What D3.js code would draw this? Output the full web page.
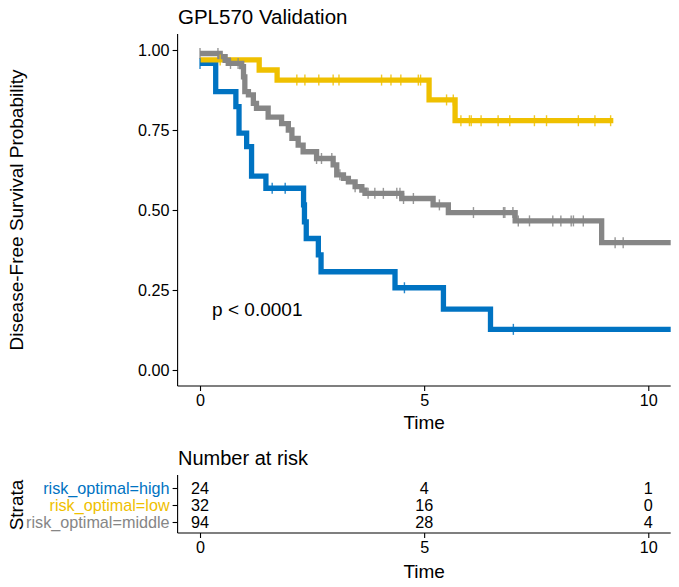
<!DOCTYPE html>
<html><head><meta charset="utf-8">
<script src="https://cdn.jsdelivr.net/npm/d3@7"></script>
<style>body{margin:0;background:#fff}svg{display:block}text{font-family:"Liberation Sans",Arial,sans-serif}</style>
</head><body>
<script>
// ---- data ----
const strata = ["risk_optimal=high", "risk_optimal=low", "risk_optimal=middle"];
const colors = ["#0073C2", "#EFC000", "#868686"];
// step curves: time of change, survival after change
const highTimes = [0, 0.35, 0.80, 0.87, 1.04, 1.15, 1.47, 2.31, 2.33, 2.37, 2.64, 2.70, 4.35, 5.43, 6.48, 10.8];
const highSurv  = [0.958, 0.870, 0.823, 0.740, 0.698, 0.606, 0.568, 0.516, 0.463, 0.411, 0.360, 0.307, 0.257, 0.190, 0.127, 0.127];
const highCens  = [0.0, 1.61, 1.90, 4.56, 6.99];
const lowTimes  = [0, 1.32, 1.72, 5.11, 5.69, 9.22];
const lowSurv   = [0.969, 0.9375, 0.906, 0.844, 0.779, 0.779];
const lowCens   = [0.45, 2.16, 2.34, 2.65, 2.97, 3.10, 4.05, 4.26, 4.48, 4.87, 4.92, 5.50, 5.65, 5.82, 6.01, 6.05, 6.27, 6.65, 6.91, 7.46, 7.73, 8.44, 8.81, 9.16];
const midTimes  = [0, 0.45, 0.56, 0.63, 0.93, 0.97, 1.00, 1.08, 1.19, 1.26, 1.52, 1.82, 1.97, 2.05, 2.19, 2.30, 2.60, 2.97, 3.05, 3.20, 3.31, 3.46, 3.61, 3.68, 4.50, 5.20, 5.54, 7.03, 8.96, 10.8];
const midSurv   = [0.989, 0.979, 0.968, 0.958, 0.948, 0.916, 0.870, 0.860, 0.833, 0.818, 0.790, 0.770, 0.750, 0.724, 0.703, 0.682, 0.661, 0.641, 0.610, 0.599, 0.588, 0.573, 0.562, 0.552, 0.536, 0.516, 0.492, 0.466, 0.398, 0.398];
const midCens   = [0.0, 0.40, 0.68, 0.85, 2.60, 2.71, 2.94, 3.12, 3.46, 3.75, 3.90, 4.09, 4.39, 4.46, 4.54, 4.76, 5.34, 6.10, 6.77, 6.80, 6.98, 7.10, 7.35, 7.87, 8.05, 8.28, 8.33, 8.55, 9.26, 9.44];
const xTicks = [0, 5, 10];
const yTicks = [0, 0.25, 0.5, 0.75, 1.0];
const riskHigh = [24, 4, 1];
const riskLow  = [32, 16, 0];
const riskMid  = [94, 28, 4];
const title = "GPL570 Validation";
const pText = "p < 0.0001";

const groups = [
  {times: highTimes, surv: highSurv, cens: highCens},
  {times: lowTimes, surv: lowSurv, cens: lowCens},
  {times: midTimes, surv: midSurv, cens: midCens}
];
const risk = [riskHigh, riskLow, riskMid];

const W = 679, H = 587;
const FONT = '"Liberation Sans",Arial,sans-serif';
const svg = d3.select("body").append("svg").attr("width", W).attr("height", H);

const x = d3.scaleLinear().domain([-0.5, 10.5]).range([177.6, 670.7]);
const y = d3.scaleLinear().domain([-0.05, 1.05]).range([386, 34]);

svg.append("clipPath").attr("id", "clip").append("rect")
  .attr("x", x.range()[0]).attr("y", y.range()[1]).attr("width", x.range()[1] - x.range()[0]).attr("height", y.range()[0] - y.range()[1]);

const plot = svg.append("g").attr("clip-path", "url(#clip)");
const line = d3.line().x(d => x(d[0])).y(d => y(d[1])).curve(d3.curveStepAfter);

function survAt(g, t) {
  let s = g.surv[0];
  for (let i = 0; i < g.times.length; i++) { if (g.times[i] <= t) s = g.surv[i]; }
  return s;
}

groups.forEach((g, i) => {
  const pts = g.times.map((t, k) => [t, g.surv[k]]);
  plot.append("path").attr("d", line(pts)).attr("fill", "none")
    .attr("stroke", colors[i]).attr("stroke-width", 5.3).attr("stroke-linejoin", "miter");
});
groups.forEach((g, i) => {
  plot.selectAll(null).data(g.cens).enter().append("line")
    .attr("x1", d => x(d)).attr("x2", d => x(d))
    .attr("y1", d => y(survAt(g, d)) - 5.5).attr("y2", d => y(survAt(g, d)) + 5.5)
    .attr("stroke", colors[i]).attr("stroke-width", 1.4).attr("opacity", 0.85);
});

const axisX = d3.axisBottom(x).tickValues(xTicks).tickSize(5).tickPadding(3).tickFormat(d3.format("d"));
const axisY = d3.axisLeft(y).tickValues(yTicks).tickSize(5).tickPadding(3).tickFormat(d3.format(".2f"));
function styleAxis(g) {
  g.select(".domain").remove();
  g.selectAll(".tick line").attr("stroke", "#000").attr("stroke-width", 1.1);
  g.selectAll(".tick text").attr("fill", "#000").style("font-size", "16.2px").style("font-family", FONT);
}
svg.append("g").attr("transform", `translate(0,${y.range()[0]})`).call(axisX).call(styleAxis);
svg.append("g").attr("transform", `translate(${x.range()[0]},0)`).call(axisY).call(styleAxis);
svg.append("line").attr("x1", x.range()[0]).attr("x2", x.range()[1]).attr("y1", y.range()[0]).attr("y2", y.range()[0]).attr("stroke", "#000").attr("stroke-width", 1.1);
svg.append("line").attr("x1", x.range()[0]).attr("x2", x.range()[0]).attr("y1", y.range()[1]).attr("y2", y.range()[0]).attr("stroke", "#000").attr("stroke-width", 1.1);

svg.append("text").attr("x", 178).attr("y", 24).text(title).style("font-size", "20.5px").attr("fill", "#000");
svg.append("text").attr("transform", `translate(23,${(y.range()[0] + y.range()[1]) / 2}) rotate(-90)`)
  .attr("text-anchor", "middle").text("Disease-Free Survival Probability").style("font-size", "19px");
svg.append("text").attr("x", x(5)).attr("y", 429).attr("text-anchor", "middle").text("Time").style("font-size", "19px");
svg.append("text").attr("x", x(0.27)).attr("y", 316).text(pText).style("font-size", "19px");

// risk table
const ty = d3.scalePoint().domain(strata).range([488, 522]);
const tBottom = 533, tTop = 475;
svg.append("text").attr("x", 178).attr("y", 465).text("Number at risk").style("font-size", "20px");
risk.forEach((r, i) => {
  svg.selectAll(null).data(r).enter().append("text")
    .attr("x", (d, k) => x(xTicks[k])).attr("y", ty(strata[i])).attr("dy", "0.36em")
    .attr("text-anchor", "middle").text(d => d).style("font-size", "16.2px");
});
const tAxisY = d3.axisLeft(ty).tickSize(5).tickPadding(3);
const gty = svg.append("g").attr("transform", `translate(${x.range()[0]},0)`).call(tAxisY).call(styleAxis);
gty.selectAll(".tick text").attr("fill", (d, i) => colors[i]);
svg.append("g").attr("transform", `translate(0,${tBottom})`).call(axisX).call(styleAxis);
svg.append("line").attr("x1", x.range()[0]).attr("x2", x.range()[1]).attr("y1", tBottom).attr("y2", tBottom).attr("stroke", "#000").attr("stroke-width", 1.1);
svg.append("line").attr("x1", x.range()[0]).attr("x2", x.range()[0]).attr("y1", tTop).attr("y2", tBottom).attr("stroke", "#000").attr("stroke-width", 1.1);
svg.append("text").attr("transform", `translate(23,505) rotate(-90)`)
  .attr("text-anchor", "middle").text("Strata").style("font-size", "19px");
svg.append("text").attr("x", x(5)).attr("y", 578).attr("text-anchor", "middle").text("Time").style("font-size", "19px");
</script>
</body></html>
